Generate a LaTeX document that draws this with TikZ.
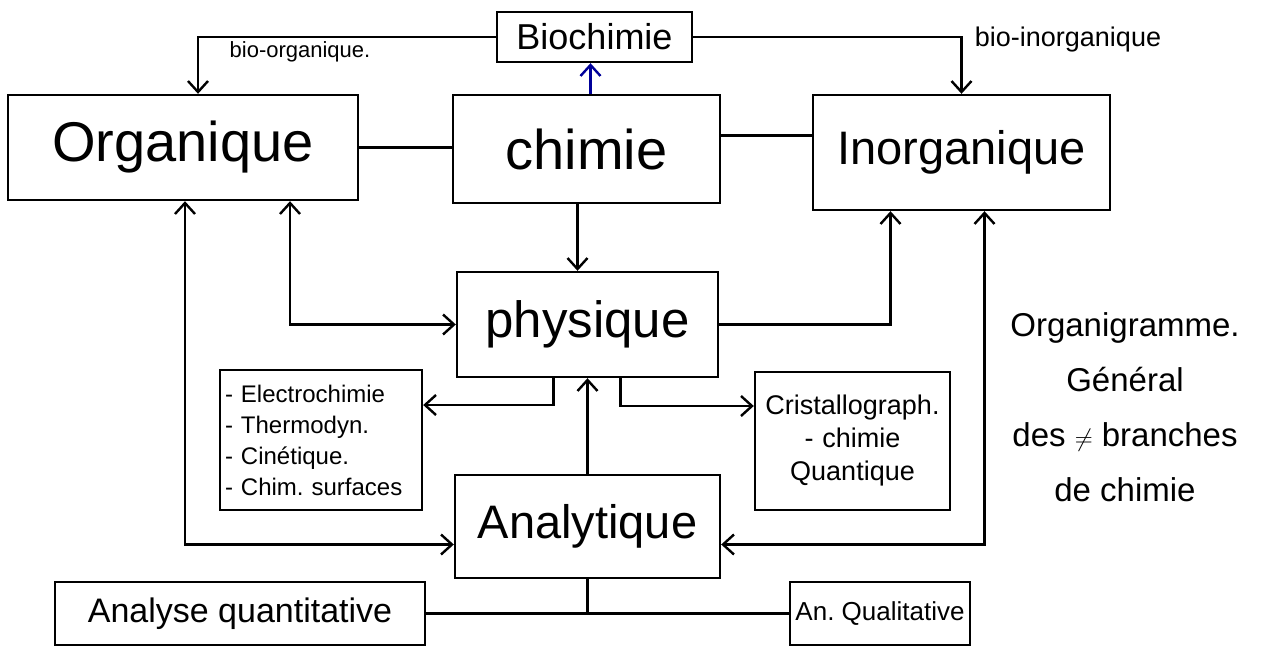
\documentclass[tikz,border=0pt]{standalone}
\usepackage{fontspec}
\setmainfont{Liberation Sans}
\usetikzlibrary{arrows.meta}
\newcommand{\fs}[1]{\fontsize{#1pt}{#1pt}\selectfont}

\begin{document}
\begin{tikzpicture} [x=1pt, y=-1pt, line width=2.4pt,
  >={Straight Barb[length=11pt,width=20pt]},
  box/.style={draw, inner sep=0pt},
  lbl/.style={inner sep=1pt}]
\useasboundingbox (0,0) rectangle (1277,664);
% boxes
\node[box, minimum width=195, minimum height=50, font=\fs{36}] (bio) at (594.5,37) {Biochimie};
\node[box, minimum width=350, minimum height=105, font=\fs{56}] (org) at (183,147.5) {Organique};
\node[box, minimum width=267, minimum height=108, font=\fs{56}] (chim) at (586.5,149) {chimie};
\node[box, minimum width=297, minimum height=115, font=\fs{47}] (inorg) at (961.5,152.5) {Inorganique};
\node[box, minimum width=261, minimum height=105, font=\fs{51}] (phys) at (587.5,324.5) {physique};
\node[box, minimum width=202, minimum height=140, text width=192, align=left, font=\fontsize{24pt}{31pt}\selectfont] (elec) at (321,440) {- Electrochimie\\- Thermodyn.\\- Cinétique.\\- Chim.\ surfaces};
\node[box, minimum width=195, minimum height=138, text width=187, align=center, font=\fontsize{27pt}{33pt}\selectfont] (crist) at (852.5,441) {Cristallograph.\\- chimie\\ Quantique};
\node[box, minimum width=265, minimum height=103, font=\fs{47}] (ana) at (587.5,526.5) {Analytique};
\node[box, minimum width=370, minimum height=63, font=\fs{34}] (quant) at (240,613.5) {Analyse quantitative};
\node[box, minimum width=180, minimum height=63, font=\fs{26}] (qual) at (880,613.5) {An.\ Qualitative};
% labels
\node[lbl, font=\fs{22}] (bo) at (300,52) {bio-organique.};
\node[lbl, font=\fs{27}] (bi) at (1068,40) {bio-inorganique};
\node[lbl, align=center, font=\fontsize{33pt}{55pt}\selectfont] (note) at (1125,407) {Organigramme.\\Général\\des $\neq$ branches\\de chimie};
% links
\draw[->] (bio.west) -| ([xshift=15]org.north);
\draw[->] (bio.east) -| (inorg.north);
\draw[->, blue!60!black] ([xshift=4]chim.north) -- ([xshift=-4]bio.south);
\draw (org.east) -- (org.east -| chim.west);
\draw ([yshift=17]inorg.west) -- ([yshift=17]inorg.west -| chim.east);
\draw[->] ([xshift=-9]chim.south) -- ([xshift=-10]phys.north);
\draw[<->] ([xshift=107]org.south) |- (phys.west);
\draw[<->] ([xshift=2]org.south) |- ([yshift=-18]ana.west);
\draw[->] (phys.east) -| ([xshift=-71]inorg.south);
\draw[<->] ([xshift=23]inorg.south) |- ([yshift=-18]ana.east);
\draw[->] ([xshift=-34]phys.south) |- ([yshift=35]elec.east);
\draw[->] ([xshift=33]phys.south) |- ([yshift=35]crist.west);
\draw[->] (ana.north) -- (phys.south);
\draw (ana.south) -- (ana.south |- quant.east);
\draw (quant.east) -- (qual.west);
\end{tikzpicture}
\end{document}
